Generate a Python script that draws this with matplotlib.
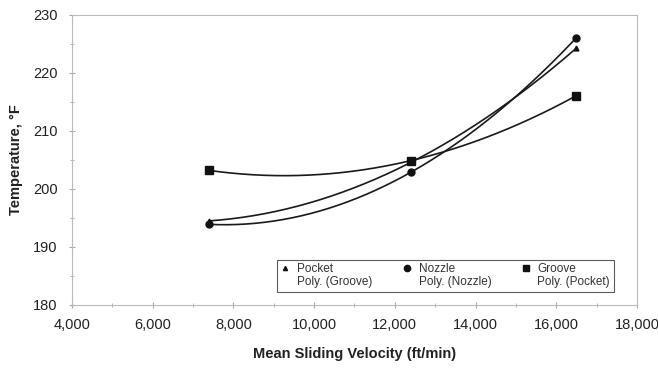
import matplotlib
matplotlib.use("Agg")
import matplotlib.pyplot as plt
from matplotlib.lines import Line2D
from matplotlib.ticker import MultipleLocator, FuncFormatter
import numpy as np

plt.rcParams['font.family'] = ['Liberation Sans', 'DejaVu Sans']

# Data
velocity = [7400, 12400, 16500]
pocket = [194.5, 204.6, 224.3]
nozzle = [193.9, 202.9, 226.1]
groove = [203.2, 204.9, 216.1]

fig = plt.figure(figsize=(6.58, 3.70), dpi=100)
ax = fig.add_axes([0.1094, 0.1757, 0.8587, 0.7838])

# polynomial (2nd order) trend lines through each series
xs = np.linspace(min(velocity), max(velocity), 200)
for series in (pocket, nozzle, groove):
    coef = np.polyfit(velocity, series, 2)
    ax.plot(xs, np.polyval(coef, xs), color='#1a1a1a', lw=1.2, zorder=2)

ax.plot(velocity, pocket, ls='none', marker='^', ms=3.5, color='#111111', zorder=3)
ax.plot(velocity, nozzle, ls='none', marker='o', ms=5, color='#111111', zorder=3)
ax.plot(velocity, groove, ls='none', marker='s', ms=5.5, color='#111111', zorder=3)

ax.set_xlim(4000, 18000)
ax.set_ylim(180, 230)
ax.xaxis.set_major_locator(MultipleLocator(2000))
ax.xaxis.set_minor_locator(MultipleLocator(1000))
ax.yaxis.set_major_locator(MultipleLocator(10))
ax.yaxis.set_minor_locator(MultipleLocator(5))
ax.xaxis.set_major_formatter(FuncFormatter(lambda v, p: f"{int(v):,}"))

for s in ax.spines.values():
    s.set_color('#bbbbbb')
    s.set_linewidth(0.8)
ax.tick_params(axis='both', which='both', direction='inout', color='#aaaaaa', labelsize=10.5,
               labelcolor='#222222')
ax.tick_params(axis='both', which='major', length=5)
ax.tick_params(axis='both', which='minor', length=3)
ax.tick_params(axis='x', which='major', pad=7)
ax.tick_params(axis='y', which='major', pad=8)

ax.set_xlabel('Mean Sliding Velocity (ft/min)', fontsize=10.5, fontweight='bold', color='#222222', labelpad=11)
ax.set_ylabel('Temperature, °F', fontsize=10.5, fontweight='bold', color='#222222', labelpad=7)

handles = [
    Line2D([], [], ls='none', marker='^', ms=3, color='#111111'),
    Line2D([], [], lw=0, color='#111111'),
    Line2D([], [], ls='none', marker='o', ms=4.5, color='#111111'),
    Line2D([], [], lw=0, color='#111111'),
    Line2D([], [], ls='none', marker='s', ms=5, color='#111111'),
    Line2D([], [], lw=0, color='#111111'),
]
labels = ['Pocket', 'Poly. (Groove)', 'Nozzle', 'Poly. (Nozzle)', 'Groove', 'Poly. (Pocket)']
leg = ax.legend(handles, labels, ncol=3, loc='lower left', bbox_to_anchor=(0.363, 0.045),
                borderaxespad=0, fontsize=8.5, frameon=True, fancybox=False, handlelength=0.8,
                handletextpad=0.6, columnspacing=2.5, labelspacing=0.1, borderpad=0.3,
                labelcolor='#333333')
leg.get_frame().set_edgecolor('#333333')
leg.get_frame().set_linewidth(0.8)

fig.savefig('out.png', dpi=100)
